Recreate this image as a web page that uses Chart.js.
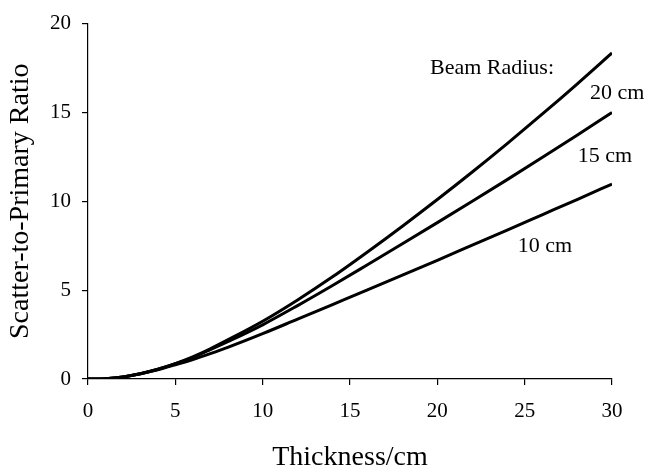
<!DOCTYPE html>
<html>
<head>
<meta charset="utf-8">
<script src="https://cdn.jsdelivr.net/npm/chart.js@4/dist/chart.umd.min.js"></script>
<style>
  html, body { margin: 0; padding: 0; background: #fff; }
  canvas { display: block; }
</style>
</head>
<body>
<canvas id="spr" width="646" height="472"></canvas>
<script>
// thickness (cm)
const thickness = [0, 1, 2, 3, 4, 5, 6, 7, 8, 10, 12, 14, 16, 18, 20, 22, 24, 26, 28, 30];
// scatter-to-primary ratio per beam radius
const radius20 = [0, 0.02, 0.12, 0.3, 0.55, 0.87, 1.25, 1.7, 2.2, 3.25, 4.45, 5.75, 7.15, 8.6, 10.1, 11.65, 13.25, 14.9, 16.6, 18.35];
const radius15 = [0, 0.02, 0.12, 0.3, 0.55, 0.86, 1.22, 1.65, 2.1, 3.05, 4.13, 5.26, 6.43, 7.61, 8.8, 10.0, 11.22, 12.46, 13.72, 15.0];
const radius10 = [0, 0.02, 0.12, 0.3, 0.52, 0.8, 1.1, 1.43, 1.78, 2.55, 3.37, 4.19, 5.01, 5.84, 6.68, 7.53, 8.38, 9.24, 10.1, 10.97];

const xTicks = [0, 5, 10, 15, 20, 25, 30];
const yTicks = [0, 5, 10, 15, 20];

const notes = [
  { text: 'Beam Radius:', x: 23.13, y: 17.47 },
  { text: '20 cm', x: 30.29, y: 16.09 },
  { text: '15 cm', x: 29.6, y: 12.51 },
  { text: '10 cm', x: 26.16, y: 7.49 }
];

const serif = '"Liberation Serif", "Times New Roman", serif';

const toPoints = ys => thickness.map((t, i) => ({ x: t, y: ys[i] }));

const lineStyle = {
  borderColor: '#000',
  borderWidth: 3,
  pointRadius: 0,
  fill: false,
  cubicInterpolationMode: 'monotone'
};

const notesPlugin = {
  id: 'notes',
  afterDatasetsDraw(chart) {
    const ctx = chart.ctx;
    const xs = chart.scales.x, ys = chart.scales.y;
    ctx.save();
    ctx.font = '22px ' + serif;
    ctx.fillStyle = '#000';
    ctx.textAlign = 'center';
    ctx.textBaseline = 'middle';
    notes.forEach(n => {
      ctx.fillText(n.text, xs.getPixelForValue(n.x), ys.getPixelForValue(n.y));
    });
    ctx.restore();
  }
};

const axisGrid = {
  display: true,
  drawOnChartArea: false,
  drawTicks: true,
  tickLength: 6,
  color: '#000',
  lineWidth: 1.2
};

new Chart(document.getElementById('spr'), {
  type: 'line',
  data: {
    datasets: [
      Object.assign({ label: '20 cm', data: toPoints(radius20) }, lineStyle),
      Object.assign({ label: '15 cm', data: toPoints(radius15) }, lineStyle),
      Object.assign({ label: '10 cm', data: toPoints(radius10) }, lineStyle)
    ]
  },
  options: {
    responsive: false,
    animation: false,
    layout: { padding: { top: 16, right: 34, left: 7, bottom: 0 } },
    plugins: {
      legend: { display: false },
      tooltip: { enabled: false }
    },
    scales: {
      x: {
        type: 'linear',
        min: 0,
        max: 30,
        afterBuildTicks: s => { s.ticks = xTicks.map(v => ({ value: v })); },
        afterFit: s => { s.height = 93; },
        grid: axisGrid,
        border: { display: true, color: '#000', width: 1.2 },
        ticks: { color: '#000', font: { family: serif, size: 21 }, padding: 14, maxRotation: 0 },
        title: {
          display: true,
          text: 'Thickness/cm',
          color: '#000',
          font: { family: serif, size: 28, lineHeight: 1 },
          padding: 0
        }
      },
      y: {
        type: 'linear',
        min: 0,
        max: 20,
        afterBuildTicks: s => { s.ticks = yTicks.map(v => ({ value: v })); },
        afterFit: s => { s.width = 81; },
        grid: axisGrid,
        border: { display: true, color: '#000', width: 1.2 },
        ticks: { color: '#000', font: { family: serif, size: 21 }, padding: 11 },
        title: {
          display: true,
          text: 'Scatter-to-Primary Ratio',
          color: '#000',
          font: { family: serif, size: 28, lineHeight: 1 },
          padding: 0
        }
      }
    }
  },
  plugins: [notesPlugin]
});
</script>
</body>
</html>
